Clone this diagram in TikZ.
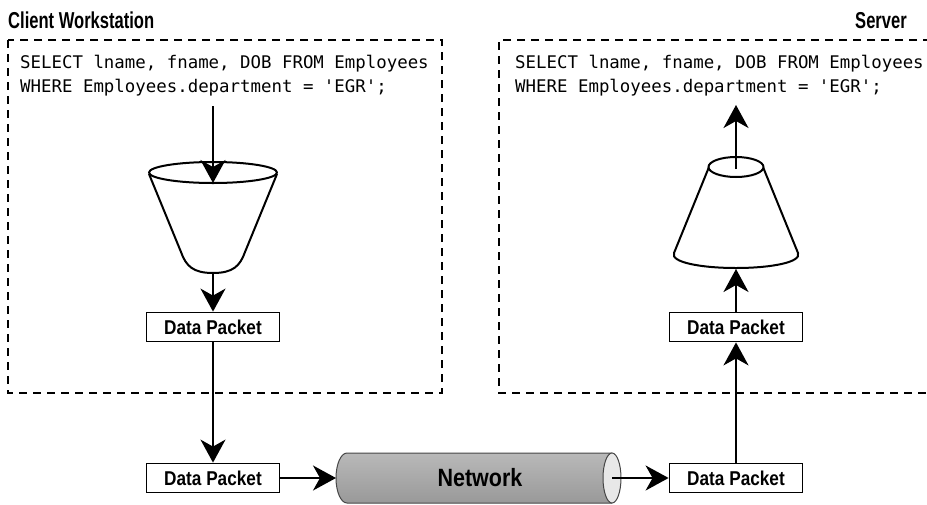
\documentclass[tikz,border=0pt]{standalone}
\usepackage{fontspec}
\setmonofont{DejaVu Sans Mono}
\newfontfamily\hdrfont[FakeStretch=0.72]{Liberation Sans Bold}
\newfontfamily\lblfont[FakeStretch=0.86]{Liberation Sans Bold}
\usetikzlibrary{arrows.meta}
\begin{document}
\begin{tikzpicture}[x=1pt,y=-1pt,
  zone/.style={line width=2.4pt, dash pattern=on 8pt off 6pt},
  pkt/.style={draw, line width=1.8pt, minimum width=133pt, minimum height=29pt, inner sep=0pt,
    font=\lblfont\fontsize{20}{22}\selectfont},
  flow/.style={line width=2pt, -{Stealth[length=23pt,width=25pt,inset=7pt]}},
  title/.style={font=\hdrfont\fontsize{23}{25}\selectfont, inner sep=0pt},
  sql/.style={font=\ttfamily\fontsize{17.4}{24}\selectfont, inner sep=0pt, anchor=base west},
  vessel/.style={line width=2pt, fill=white, line join=round},
  tube/.style={draw=gray!55!black, line width=1pt}]
\useasboundingbox (0,0) rectangle (927,504);
\clip (0,0) rectangle (927,504);

% zones
\draw[zone] (8,40) rectangle (442,393);
\draw[zone] (945,40) -- (499,40) -- (499,393) -- (945,393);

% titles
\node[title, anchor=base west] (ttlC) at (8,28) {Client Workstation};
\node[title, anchor=base east] (ttlS) at (907,28) {Server};

% SQL text
\node[sql] (sqlA1) at (20,68) {SELECT lname, fname, DOB FROM Employees};
\node[sql] (sqlA2) at (20,92) {WHERE Employees.department = 'EGR';};
\node[sql] (sqlB1) at (515,68) {SELECT lname, fname, DOB FROM Employees};
\node[sql] (sqlB2) at (515,92) {WHERE Employees.department = 'EGR';};

% funnel (client)
\draw[vessel] (149,174) -- (181,252) .. controls (186,266) and (193,273) .. (213,273)
  .. controls (233,273) and (240,266) .. (245,252) -- (277,174);
\draw[vessel] (213,172.5) ellipse [x radius=64, y radius=10.5];
\coordinate (topL) at (213,106);
\coordinate (funIn) at (213,183);
\coordinate (funOut) at (213,273);

% cone (server)
\draw[vessel] (709,167) -- (674,253) .. controls (670,262) and (700,268) .. (736,268)
  .. controls (772,268) and (802,262) .. (798,253) -- (763,167);
\draw[vessel] (736,167) ellipse [x radius=27.5, y radius=10];
\coordinate (topR) at (736,105);
\coordinate (coneIn) at (736,169);
\coordinate (coneOut) at (736,269);

% network cylinder
\shade[top color=gray!55, middle color=gray!30, bottom color=gray!80]
  (612,453) -- (347,453) arc[start angle=270, end angle=90, x radius=11, y radius=25] -- (612,503) -- cycle;
\draw[tube] (612,453) -- (347,453) arc[start angle=270, end angle=90, x radius=11, y radius=25] -- (612,503);
\draw[tube, fill=gray!18] (612,478) ellipse [x radius=9, y radius=25];
\node[font=\lblfont\fontsize{25}{27}\selectfont, inner sep=0pt] (net) at (480,478) {Network};
\coordinate (netL) at (336,478);
\coordinate (netR) at (612,478);

% data packets
\node[pkt] (dp1) at (213,327) {Data Packet};
\node[pkt] (dp2) at (213,478) {Data Packet};
\node[pkt] (dp3) at (736,327) {Data Packet};
\node[pkt] (dp4) at (736,478) {Data Packet};

% connectors
\draw[flow] (topL) -- (funIn);
\draw[flow] (funOut) -- (dp1.north);
\draw[flow] (dp1.south) -- (dp2.north);
\draw[flow] (dp2.east) -- (netL);
\draw[flow] (netR) -- (dp4.west);
\draw[flow] (dp4.north) -- (dp3.south);
\draw[flow] (dp3.north) -- (coneOut);
\draw[flow] (coneIn) -- (topR);
\end{tikzpicture}
\end{document}
